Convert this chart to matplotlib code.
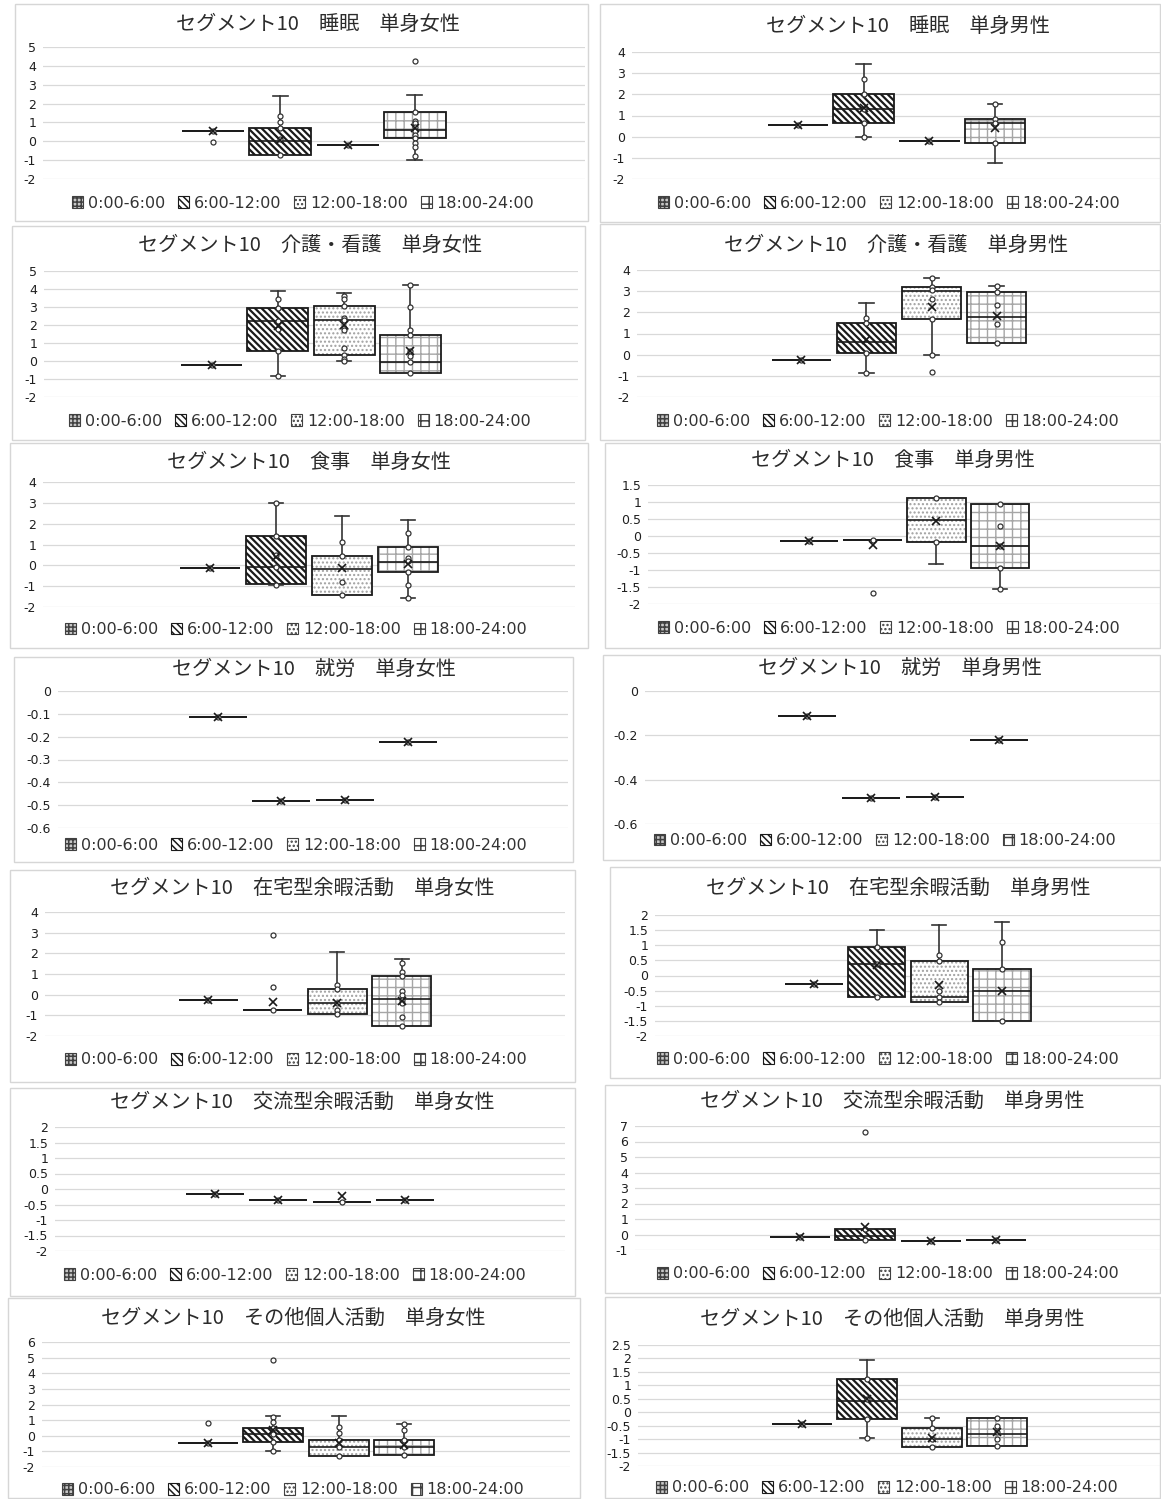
import numpy as np
import matplotlib
matplotlib.use("Agg")
import matplotlib.pyplot as plt
from matplotlib.patches import Patch, PathPatch, Rectangle

# ---------------- データ ----------------
SLOTS = ["0:00-6:00", "6:00-12:00", "12:00-18:00", "18:00-24:00"]
ACTIVITIES = ["睡眠", "介護・看護", "食事", "就労", "在宅型余暇活動", "交流型余暇活動", "その他個人活動"]
GROUPS = ["単身女性", "単身男性"]

# 各行 = 1 パネル（活動 × 女性/男性 の順）、各列 = 時間帯
Q1 = [
    [0.55, -0.72, -0.20, 0.15], [0.57, 0.66, -0.19, -0.30],
    [-0.24, 0.58, 0.36, -0.65], [-0.27, 0.10, 1.68, 0.55],
    [-0.13, -0.89, -1.44, -0.30], [-0.14, -0.13, -0.17, -0.93],
    [-0.112, -0.482, -0.478, -0.222], [-0.112, -0.482, -0.478, -0.222],
    [-0.28, -0.72, -0.92, -1.52], [-0.27, -0.71, -0.89, -1.50],
    [-0.15, -0.35, -0.41, -0.35], [-0.18, -0.38, -0.42, -0.36],
    [-0.45, -0.42, -1.30, -1.25], [-0.42, -0.25, -1.29, -1.25],
]
MED = [
    [0.55, 0.00, -0.20, 0.62], [0.57, 1.33, -0.19, 0.66],
    [-0.24, 2.22, 2.28, -0.05], [-0.27, 0.62, 3.00, 1.78],
    [-0.13, -0.10, -0.17, 0.14], [-0.14, -0.13, 0.47, -0.30],
    [-0.112, -0.482, -0.478, -0.222], [-0.112, -0.482, -0.478, -0.222],
    [-0.28, -0.72, -0.40, -0.20], [-0.27, 0.38, -0.72, -0.50],
    [-0.15, -0.35, -0.41, -0.35], [-0.18, -0.10, -0.42, -0.36],
    [-0.45, 0.10, -0.75, -0.70], [-0.42, 0.40, -1.00, -0.80],
]
Q3 = [
    [0.55, 0.68, -0.20, 1.55], [0.57, 2.03, -0.19, 0.85],
    [-0.24, 2.96, 3.04, 1.46], [-0.27, 1.50, 3.22, 2.96],
    [-0.13, 1.42, 0.46, 0.90], [-0.14, -0.13, 1.12, 0.93],
    [-0.112, -0.482, -0.478, -0.222], [-0.112, -0.482, -0.478, -0.222],
    [-0.28, -0.72, 0.28, 0.90], [-0.27, 0.95, 0.48, 0.23],
    [-0.15, -0.35, -0.41, -0.35], [-0.18, 0.33, -0.42, -0.36],
    [-0.45, 0.48, -0.28, -0.30], [-0.42, 1.22, -0.60, -0.22],
]
WLO = [
    [0.55, -0.72, -0.20, -0.98], [0.57, -0.02, -0.19, -1.25],
    [-0.24, -0.83, 0.00, -0.65], [-0.27, -0.87, -0.02, 0.55],
    [-0.13, -0.94, -1.44, -1.55], [-0.14, -0.13, -0.82, -1.56],
    [-0.112, -0.482, -0.478, -0.222], [-0.112, -0.482, -0.478, -0.222],
    [-0.28, -0.72, -0.92, -1.52], [-0.27, -0.71, -0.89, -1.50],
    [-0.15, -0.35, -0.41, -0.35], [-0.18, -0.38, -0.42, -0.36],
    [-0.45, -0.95, -1.30, -1.25], [-0.42, -0.95, -1.29, -1.25],
]
WHI = [
    [0.55, 2.40, -0.20, 2.45], [0.57, 3.45, -0.19, 1.52],
    [-0.24, 3.88, 3.80, 4.20], [-0.27, 2.44, 3.60, 3.26],
    [-0.13, 3.00, 2.38, 2.16], [-0.14, -0.13, 1.12, 0.93],
    [-0.112, -0.482, -0.478, -0.222], [-0.112, -0.482, -0.478, -0.222],
    [-0.28, -0.72, 2.05, 1.74], [-0.27, 1.50, 1.66, 1.77],
    [-0.15, -0.35, -0.41, -0.35], [-0.18, 0.33, -0.42, -0.36],
    [-0.45, 1.25, 1.25, 0.75], [-0.42, 1.95, -0.22, -0.22],
]
MEAN = [
    [0.55, 0.08, -0.20, 0.72], [0.57, 1.37, -0.19, 0.40],
    [-0.24, 1.95, 2.02, 0.55], [-0.27, 0.68, 2.26, 1.83],
    [-0.13, 0.40, -0.13, 0.06], [-0.14, -0.26, 0.43, -0.30],
    [-0.112, -0.482, -0.478, -0.222], [-0.112, -0.482, -0.478, -0.222],
    [-0.28, -0.36, -0.38, -0.33], [-0.27, 0.35, -0.32, -0.50],
    [-0.15, -0.35, -0.22, -0.35], [-0.18, 0.46, -0.42, -0.36],
    [-0.45, 0.35, -0.47, -0.62], [-0.42, 0.50, -0.97, -0.73],
]
POINTS = [
    [[0.55], [1.33, 1.00, 0.68, 0.10, -0.72], [-0.20],
     [1.55, 1.05, 0.95, 0.75, 0.55, 0.35, 0.15, -0.10, -0.28, -0.78]],
    [[0.57], [2.74, 2.03, 1.33, 0.66, -0.02], [-0.19], [1.52, 0.85, 0.66, -0.30]],
    [[-0.24], [3.44, 2.96, 2.20, 1.80, 0.58, -0.83],
     [3.60, 3.45, 3.04, 2.40, 2.30, 1.85, 1.70, 0.72, 0.33, 0.10, 0.00],
     [4.20, 2.98, 1.75, 1.46, 0.55, 0.28, -0.04, -0.65]],
    [[-0.27], [1.75, 1.50, 0.10, -0.87], [3.60, 3.22, 3.05, 2.64, 1.68, -0.02],
     [3.26, 2.96, 2.36, 1.45, 0.55]],
    [[-0.13], [3.00, 1.42, 0.50, -0.10, -0.94], [1.10, 0.46, -0.80, -1.44],
     [1.54, 0.90, 0.33, 0.22, -0.30, -0.92, -1.55]],
    [[-0.14], [-0.13], [1.12, -0.17], [0.93, 0.30, -0.30, -0.93, -1.56]],
    [[-0.112], [-0.482], [-0.478], [-0.222]],
    [[-0.112], [-0.482], [-0.478], [-0.222]],
    [[-0.28], [-0.72], [0.47, 0.28, -0.38, -0.72, -0.92],
     [1.55, 1.10, 0.90, 0.18, 0.00, -0.25, -0.38, -1.10, -1.52]],
    [[-0.27], [0.95, 0.38, -0.71], [0.68, 0.48, -0.50, -0.71, -0.89], [1.10, 0.23, -1.50]],
    [[-0.15], [-0.35], [-0.41], [-0.35]],
    [[-0.18], [0.33, -0.38], [-0.42], [-0.36]],
    [[-0.45], [1.20, 0.90, 0.48, 0.10, -0.42, -0.95], [0.55, 0.20, -0.28, -0.75, -1.30],
     [0.75, 0.35, -0.30, -0.70, -1.25]],
    [[-0.42], [1.22, 0.50, -0.25, -0.95], [-0.22, -0.60, -1.00, -1.29],
     [-0.22, -0.50, -0.75, -1.00, -1.25]],
]
FLIERS = [
    [[-0.05], [], [], [4.28]], [[], [], [], []],
    [[], [], [], []], [[], [], [-0.80], []],
    [[], [], [], []], [[], [-1.68], [], []],
    [[], [], [], []], [[], [], [], []],
    [[], [2.88, 0.37], [], []], [[], [], [], []],
    [[], [], [], []], [[], [6.60], [], []],
    [[0.80], [4.85], [], []], [[], [], [], []],
]
# y 軸の目盛り (下限, 上限, 間隔)
YTICKS = [
    (-2, 5, 1), (-2, 4, 1), (-2, 5, 1), (-2, 4, 1), (-2, 4, 1), (-2, 1.5, 0.5),
    (-0.6, 0, 0.1), (-0.6, 0, 0.2), (-2, 4, 1), (-2, 2, 0.5), (-2, 2, 0.5),
    (-1, 7, 1), (-2, 6, 1), (-2, 2.5, 0.5),
]

# ---------------- レイアウト (px) ----------------
W, H = 1161, 1499
AX_BOX = [  # left, top, right, bottom
    (43, 47, 585, 179), (632, 52, 1161, 179),
    (44, 271, 578, 397), (637, 270, 1161, 397),
    (43, 482, 575, 607), (648, 485, 1161, 604),
    (58, 691, 568, 828), (645, 691, 1161, 824),
    (45, 912, 565, 1036), (655, 915, 1161, 1036),
    (55, 1127, 565, 1251), (635, 1126, 1161, 1250),
    (42, 1342, 570, 1467), (638, 1345, 1161, 1466),
]
FRAME = [
    (15, 4, 588, 221), (600, 4, 1160, 222),
    (12, 226, 585, 440), (600, 224, 1160, 440),
    (10, 443, 588, 648), (605, 443, 1160, 648),
    (14, 657, 573, 862), (603, 655, 1160, 860),
    (10, 870, 575, 1082), (610, 867, 1160, 1078),
    (10, 1088, 575, 1296), (605, 1085, 1160, 1293),
    (8, 1298, 580, 1498), (605, 1297, 1160, 1498),
]
TITLE_XY = [
    (318, 25), (908, 26), (310, 245), (896, 245), (309, 462), (893, 461),
    (314, 669), (900, 668), (302, 888), (898, 888), (302, 1102), (892, 1101),
    (293, 1318), (892, 1319),
]
LEGEND_XY = [
    (303, 203), (889, 203), (300, 421), (888, 421), (296, 630), (889, 628),
    (296, 845), (885, 841), (296, 1060), (888, 1059), (295, 1275), (888, 1274),
    (293, 1490), (887, 1488),
]

POS = [1, 2, 3, 4]
HATCHES = ["+++++", "\\\\\\\\\\", "....", "++"]
HATCH_COLORS = ["#7f7f7f", "#1a1a1a", "#a0a0a0", "#a6a6a6"]
HATCH_LW = [1.0, 1.6, 1.0, 1.0]
LEG_FACE = ["#c8c8c8", "white", "white", "white"]

plt.rcParams["hatch.linewidth"] = 1.1
plt.rcParams["font.family"] = ["DejaVu Sans", "Noto Sans CJK JP"]

fig = plt.figure(figsize=(W / 100, H / 100), dpi=100)
fig.patch.set_facecolor("white")


def fmt(v):
    v = round(float(v), 2)
    if abs(v) < 1e-9:
        return "0"
    return f"{v:g}"


def hatched(path, i):
    pp = PathPatch(path, facecolor="white", edgecolor=HATCH_COLORS[i],
                   hatch=HATCHES[i], lw=0, zorder=1.8)
    try:
        pp.set_hatch_linewidth(HATCH_LW[i])
    except AttributeError:
        pass
    return pp


for k in range(14):
    act, grp = ACTIVITIES[k // 2], GROUPS[k % 2]

    fl, ft, fr, fb = FRAME[k]
    fig.add_artist(Rectangle((fl / W, 1 - fb / H), (fr - fl) / W, (fb - ft) / H,
                             transform=fig.transFigure, fill=False,
                             ec="#d6d6d6", lw=1.0))

    l, t, r, b = AX_BOX[k]
    ax = fig.add_axes([l / W, 1 - b / H, (r - l) / W, (b - t) / H])

    stats = [dict(q1=Q1[k][i], med=MED[k][i], q3=Q3[k][i],
                  whislo=WLO[k][i], whishi=WHI[k][i], mean=MEAN[k][i],
                  fliers=FLIERS[k][i], label=SLOTS[i]) for i in range(4)]
    art = ax.bxp(stats, positions=POS, widths=0.92, capwidths=0.22,
                 patch_artist=True, showmeans=True, showfliers=True,
                 boxprops=dict(edgecolor="#1a1a1a", lw=1.3, zorder=2),
                 medianprops=dict(color="#1a1a1a", lw=1.2, zorder=2.1),
                 whiskerprops=dict(color="#333333", lw=1.2),
                 capprops=dict(color="#333333", lw=1.2),
                 meanprops=dict(marker="x", mec="#1a1a1a", ms=6, mew=1.2, zorder=4),
                 flierprops=dict(marker="o", mfc="white", mec="#333333",
                                 ms=3.6, mew=0.9))
    for i, box in enumerate(art["boxes"]):
        box.set_facecolor("none")
        ax.add_patch(hatched(box.get_path(), i))
    for i in range(4):
        pts = POINTS[k][i]
        ax.plot([POS[i]] * len(pts), pts, "o", mfc="white", mec="#333333",
                ms=3.6, mew=0.9, zorder=3)

    lo, hi, step = YTICKS[k]
    ticks = np.round(np.arange(lo, hi + step / 2, step), 2)
    ax.set_yticks(ticks)
    ax.set_yticklabels([fmt(v) for v in ticks])
    ax.set_ylim(lo, hi)
    ax.set_xlim(2.5 - 4.03, 2.5 + 4.03)
    ax.set_xticks([])
    for s in ax.spines.values():
        s.set_visible(False)
    ax.set_axisbelow(True)
    ax.grid(axis="y", color="#d9d9d9", lw=0.9)
    ax.tick_params(axis="y", length=0, pad=5, labelsize=9, labelcolor="#1f1f1f")
    ax.patch.set_alpha(0)

    tx, ty = TITLE_XY[k]
    fig.text(tx / W, 1 - ty / H, f"セグメント10\u3000{act}\u3000{grp}",
             ha="center", va="center", fontsize=14.5, color="#2b2b2b",
             family=["Noto Sans CJK JP", "DejaVu Sans"])

    handles = [Patch(facecolor=LEG_FACE[i], edgecolor="#404040" if i != 1 else "#1a1a1a",
                     hatch=HATCHES[i] if i != 0 else "++++", lw=0.8) for i in range(4)]
    lx, ly = LEGEND_XY[k]
    fig.legend(handles, SLOTS, loc="center", bbox_to_anchor=(lx / W, 1 - ly / H),
               ncol=4, frameon=False, fontsize=11.5, labelcolor="#333333",
               handlelength=0.7, handleheight=0.7, handletextpad=0.3,
               columnspacing=0.8, borderpad=0, borderaxespad=0)

fig.savefig("out.png", dpi=100, facecolor="white")
